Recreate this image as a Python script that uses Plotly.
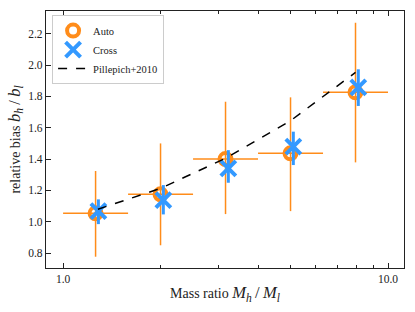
import numpy as np
import plotly.graph_objects as go

# Data
bin_edges = [1.0, 1.585, 2.512, 3.981, 6.310, 10.0]
mass_ratio = [1.259, 1.995, 3.162, 5.012, 7.943]

auto_bias = [1.054, 1.175, 1.40, 1.437, 1.826]
auto_err_up = [0.27, 0.325, 0.366, 0.357, 0.444]
auto_err_dn = [0.277, 0.325, 0.351, 0.369, 0.447]

cross_bias = [1.068, 1.138, 1.341, 1.479, 1.858]
cross_err_up = [0.075, 0.096, 0.116, 0.096, 0.115]
cross_err_dn = [0.083, 0.091, 0.092, 0.117, 0.119]

pillepich_x = [1.28, 1.995, 3.162, 5.012, 7.943]
pillepich_y = [1.08, 1.213, 1.405, 1.645, 1.953]

yticks = [0.8, 1.0, 1.2, 1.4, 1.6, 1.8, 2.0, 2.2]
xticks = [1.0, 10.0]
xtick_text = ["1.0", "10.0"]
xminor = [2, 3, 4, 5, 6, 7, 8, 9]

orange = "#FF8C1A"
blue = "#3399FF"
ink = "#222222"
serif = "Liberation Serif"

xm = np.array(mass_ratio)
x_lo = xm - np.array(bin_edges[:-1])
x_hi = np.array(bin_edges[1:]) - xm

fig = go.Figure()
fig.add_trace(go.Scatter(
    x=mass_ratio, y=auto_bias, mode="markers", name="Auto",
    marker=dict(symbol="circle-open", size=12, color=orange, line=dict(width=4, color=orange)),
    error_y=dict(type="data", symmetric=False, array=auto_err_up, arrayminus=auto_err_dn,
                 color=orange, thickness=1.5, width=0),
    error_x=dict(type="data", symmetric=False, array=list(x_hi), arrayminus=list(x_lo),
                 color=orange, thickness=1.5, width=0),
))
fig.add_trace(go.Scatter(
    x=list(xm * 1.02), y=cross_bias, mode="markers", name="Cross",
    marker=dict(symbol="x-thin", size=15, color=blue, line=dict(width=4, color=blue)),
    error_y=dict(type="data", symmetric=False, array=cross_err_up, arrayminus=cross_err_dn,
                 color=blue, thickness=3, width=0),
))
fig.add_trace(go.Scatter(
    x=pillepich_x, y=pillepich_y, mode="lines", name="Pillepich+2010",
    line=dict(color="black", width=1.5, dash="dash"),
))

axis_common = dict(
    showline=True, linecolor=ink, linewidth=1.3, showgrid=False, zeroline=False,
    ticks="inside", tickcolor=ink, tickwidth=1, ticklen=5,
    tickfont=dict(family=serif, size=11.5, color=ink),
)
fig.update_xaxes(
    type="log", range=[np.log10(0.886), np.log10(11.2)],
    tickvals=xticks, ticktext=xtick_text, mirror="ticks",
    minor=dict(tickvals=xminor, ticks="inside", ticklen=3, tickcolor=ink, tickwidth=1),
    title=dict(text="Mass ratio <span style='font-size:16.5px'><i>M<sub>h</sub></i>&#8201;/&#8201;<i>M<sub>l</sub></i></span>",
               font=dict(family=serif, size=14, color=ink), standoff=4),
    **axis_common,
)
fig.update_yaxes(
    range=[0.705, 2.345], tickvals=yticks, ticktext=[f"{v:.1f}" for v in yticks], mirror=True,
    title=dict(text="relative bias <span style='font-size:16.5px'><i>b<sub>h</sub></i>&#8201;/&#8201;<i>b<sub>l</sub></i></span>",
               font=dict(family=serif, size=14, color=ink), standoff=4),
    **axis_common,
)
fig.update_layout(
    width=415, height=312,
    margin=dict(l=46, r=11, t=11, b=44),
    plot_bgcolor="white", paper_bgcolor="white",
    font=dict(family=serif, color=ink),
    legend=dict(x=0.017, y=0.984, xanchor="left", yanchor="top",
                bgcolor="rgba(255,255,255,0.8)", bordercolor="#cccccc", borderwidth=1,
                font=dict(family=serif, size=10.5), tracegroupgap=0,
                itemsizing="trace"),
    showlegend=True,
)
fig.write_html("out.html", config={"displayModeBar": False},
               post_script="document.body.style.margin='0';")
